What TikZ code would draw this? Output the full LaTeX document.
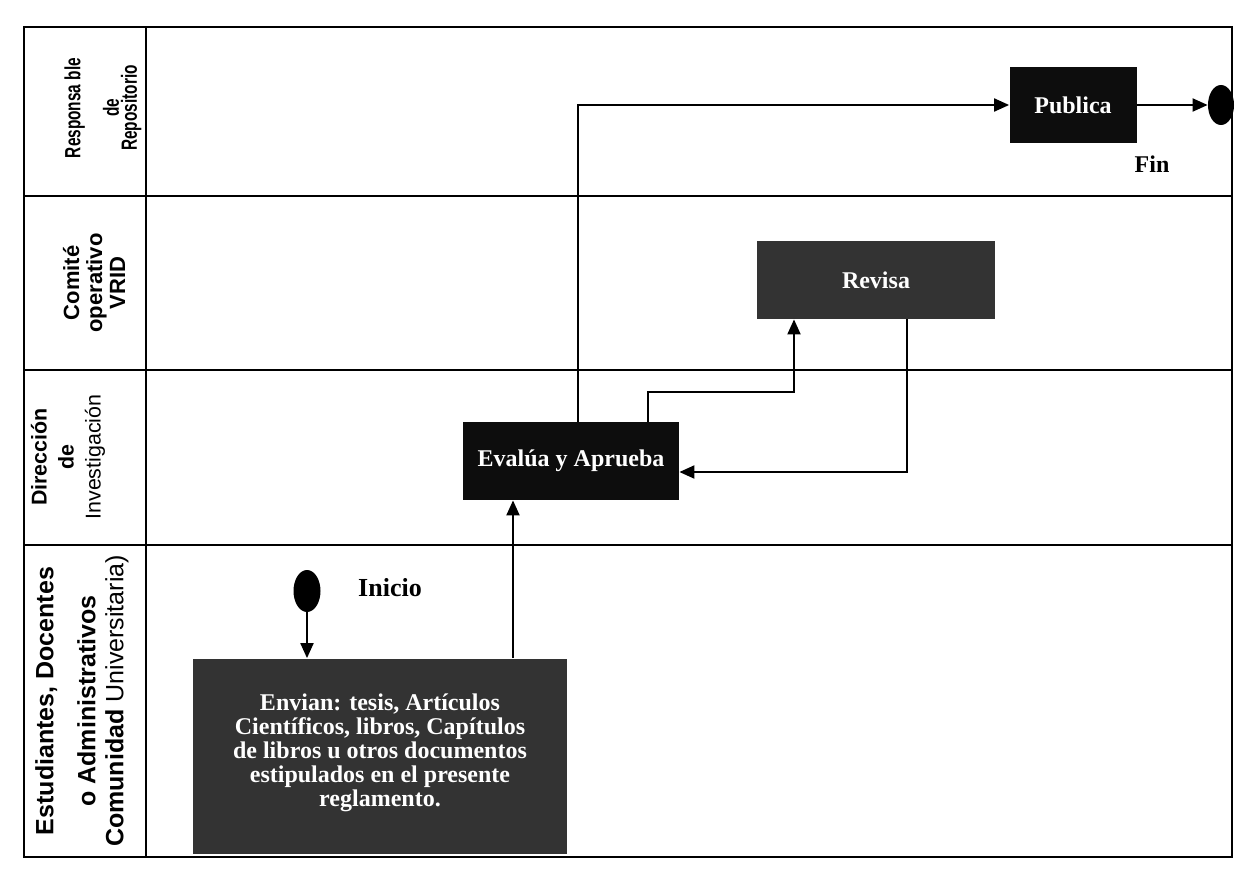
\documentclass[tikz,border=0pt]{standalone}
\usepackage{fontspec}
\setmainfont{Liberation Serif}
\newfontfamily\arialf{Liberation Sans}
\newfontfamily\arialn[FakeStretch=0.7]{Liberation Sans}
\usetikzlibrary{arrows.meta,shapes.geometric}
\begin{document}
\begin{tikzpicture}[x=0.5pt,y=-0.5pt,
  frame/.style={line width=1pt},
  arr/.style={line width=1pt,-{Triangle[length=7.5pt,width=6.5pt]}},
  procbox/.style={rectangle, inner sep=2pt, text=white, font=\bfseries\fontsize{12}{12}\selectfont, align=center},
  lanelab/.style={rotate=90, align=center, inner sep=0pt},
  dot/.style={ellipse, fill=black, inner sep=0pt}]
\useasboundingbox (0,0) rectangle (1248,872);
\fill[white] (0,0) rectangle (1248,872);
% frame and lanes
\draw[frame] (24,27) rectangle (1232,857);
\draw[frame] (146,27) -- (146,857);
\draw[frame] (24,196) -- (1232,196);
\draw[frame] (24,370) -- (1232,370);
\draw[frame] (24,545) -- (1232,545);
% lane labels
\node[lanelab, font=\arialn\bfseries\fontsize{11}{9}\selectfont] (l1) at (103,108) {Responsa ble\\[8pt]de\\Repositorio};
\node[lanelab, font=\arialf\bfseries\fontsize{11}{11.5}\selectfont] (l2) at (94,283) {Comité\\operativo\\VRID};
\node[lanelab, font=\arialf\fontsize{10.7}{13.5}\selectfont] (l3) at (68,457) {\textbf{Dirección}\\\textbf{de}\\Investigación};
\node[lanelab, font=\arialf\fontsize{12.5}{14}\selectfont] (l4) at (82,701) {\textbf{Estudiantes, Docentes}\\[7pt]\textbf{o Administrativos}\\\textbf{Comunidad} Universitaria)};
% process nodes
\node[procbox, fill=black!80, minimum width=187pt, minimum height=97.5pt] (envian) at (380,756)
  {Envian: tesis, Artículos\\Científicos, libros, Capítulos\\de libros u otros documentos\\estipulados en el presente\\reglamento.\\[-6pt]\mbox{}};
\node[procbox, fill=black!95, minimum width=108pt, minimum height=39pt] (evalua) at (571,461) {Evalúa y Aprueba};
\node[procbox, fill=black!80, minimum width=119pt, minimum height=39pt] (revisa) at (876,280) {Revisa};
\node[procbox, fill=black!95, minimum width=63.5pt, minimum height=38pt] (publica) at (1073,105) {Publica};
\node[dot, minimum width=13.5pt, minimum height=21pt] (ini) at (307,591) {};
\node[dot, minimum width=13pt, minimum height=20pt] (fin) at (1221,105) {};
\node[font=\bfseries\fontsize{13}{13}\selectfont] (initxt) at (390,588) {Inicio};
\node[font=\bfseries\fontsize{12}{12}\selectfont] (fintxt) at (1152,164) {Fin};
% connectors
\coordinate (c1) at (513,0);
\coordinate (c2) at (578,0);
\coordinate (c3) at (648,392);
\coordinate (c4) at (794,0);
\coordinate (c5) at (907,472);
\draw[arr] (ini.south) -- (envian.north -| ini.south);
\draw[arr] (envian.north -| c1) -- (evalua.south -| c1);
\draw[arr] (evalua.north -| c2) |- (publica.west);
\draw[arr] (publica.east) -- (fin.west);
\draw[arr] (evalua.north -| c3) -- (c3) -| (revisa.south -| c4);
\draw[arr] (revisa.south -| c5) |- (evalua.east |- c5);
\end{tikzpicture}
\end{document}
